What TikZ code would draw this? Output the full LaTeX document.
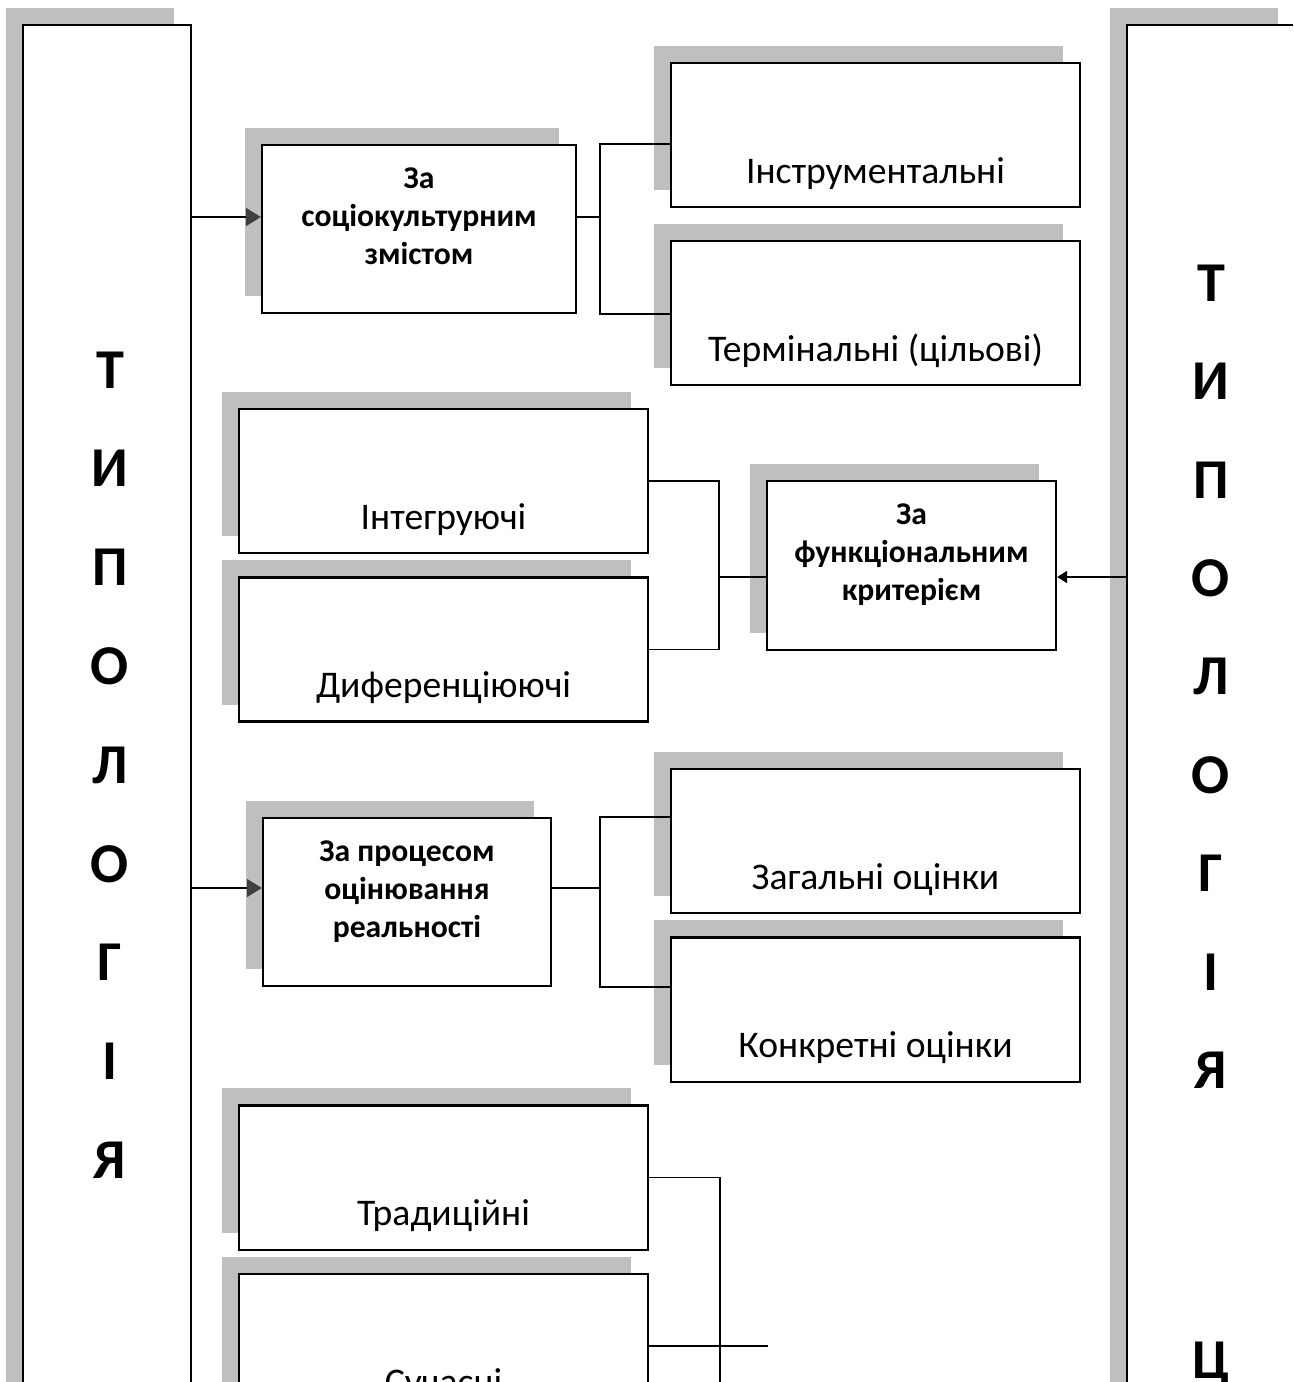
\documentclass[tikz,border=0pt]{standalone}
\usepackage{fontspec}
\setmainfont{Carlito}
\usetikzlibrary{arrows.meta,shadows,calc}

\begin{document}
\begin{tikzpicture}[x=0.01cm,y=-0.01cm,every node/.style={inner sep=0pt},
	box/.style={draw,line width=0.6pt,fill=white,drop shadow={shadow xshift=-0.17cm,shadow yshift=0.17cm,fill=gray!50,opacity=1}},
	col/.style={box,minimum width=1.68cm,minimum height=14.25cm},
	leaf/.style={box,minimum width=4.09cm,text height=1.2cm,text depth=0.24cm,font=\fontsize{10.7}{13}\selectfont},
	crit/.style={box,align=center,font=\fontsize{9}{10.8}\selectfont\bfseries},
	letter/.style={font=\fontsize{16}{19}\selectfont\bfseries},
	link/.style={line width=0.5pt},
	arrL/.style={line width=0.6pt,-{Triangle[length=0.15cm,width=0.18cm,color=black!75]}},
	arrR/.style={line width=0.6pt,-{Triangle[length=0.1cm,width=0.12cm]}}]
	\clip (0,0) rectangle (1293,1382);

	\node[col] (L) at (107,737.5) {};
	\node[col] (R) at (1211,737.5) {};
	\foreach \ch [count=\i from 0] in {Т,И,П,О,Л,О,Г,І,Я}
		\node[letter] (l\i) at (110,370+98.75*\i) {\ch};
	\foreach \ch [count=\i from 0] in {Т,И,П,О,Л,О,Г,І,Я}
		\node[letter] (r\i) at (1211,283+98.4*\i) {\ch};
	\node[letter] (r11) at (1211,1365) {Ц};

	\node[crit,minimum width=3.14cm,minimum height=1.68cm] (A) at (419,229) {За\\соціокультурним\\змістом\\[-3.4pt]\mbox{}};
	\node[leaf] (I1) at (875.5,135) {Інструментальні};
	\node[leaf] (I2) at (875.5,313) {Термінальні (цільові)};

	\node[leaf] (B1) at (443.5,481) {Інтегруючі};
	\node[leaf] (B2) at (443.5,649.5) {Диференціюючі};
	\node[crit,minimum width=2.89cm,minimum height=1.69cm] (F) at (911.5,565.5) {За\\функціональним\\критерієм\\[-3.4pt]\mbox{}};

	\node[crit,minimum width=2.88cm,minimum height=1.68cm] (P) at (407,902) {За процесом\\оцінювання\\реальності\\[-3.4pt]\mbox{}};
	\node[leaf] (G1) at (875.5,841) {Загальні оцінки};
	\node[leaf] (G2) at (875.5,1009.5) {Конкретні оцінки};

	\node[leaf] (T1) at (443.5,1177.5) {Традиційні};
	\node[leaf] (T2) at (443.5,1346) {Сучасні};

	\coordinate (ya) at (0,217);
	\coordinate (yf) at (0,577);
	\coordinate (yp) at (0,888);
	\coordinate (jt) at (720,1420);
	\coordinate (tn) at (768,1346);

	\draw[arrL] (L.east |- ya) -- (A.west |- ya);
	\draw[link] (A.east |- ya) -- ++(23,0) coordinate (ja);
	\draw[link] (I1.west |- A.north) -| (ja) |- (I2.west |- A.south);

	\draw[arrR] (R.west |- yf) -- (F.east |- yf);
	\draw[link] (F.west |- yf) -- ++(-47,0) coordinate (jf);
	\draw[link] (B1.east) -| (jf) |- (B2.east);

	\draw[arrL] (L.east |- yp) -- (P.west |- yp);
	\draw[link] (P.east |- yp) -- ++(48,0) coordinate (jp);
	\draw[link] (G1.west |- P.north) -| (jp) |- (G2.west |- P.south);

	\draw[link] (T1.east) -| (jt);
	\draw[link] (T2.east) -- (tn);
\end{tikzpicture}
\end{document}
